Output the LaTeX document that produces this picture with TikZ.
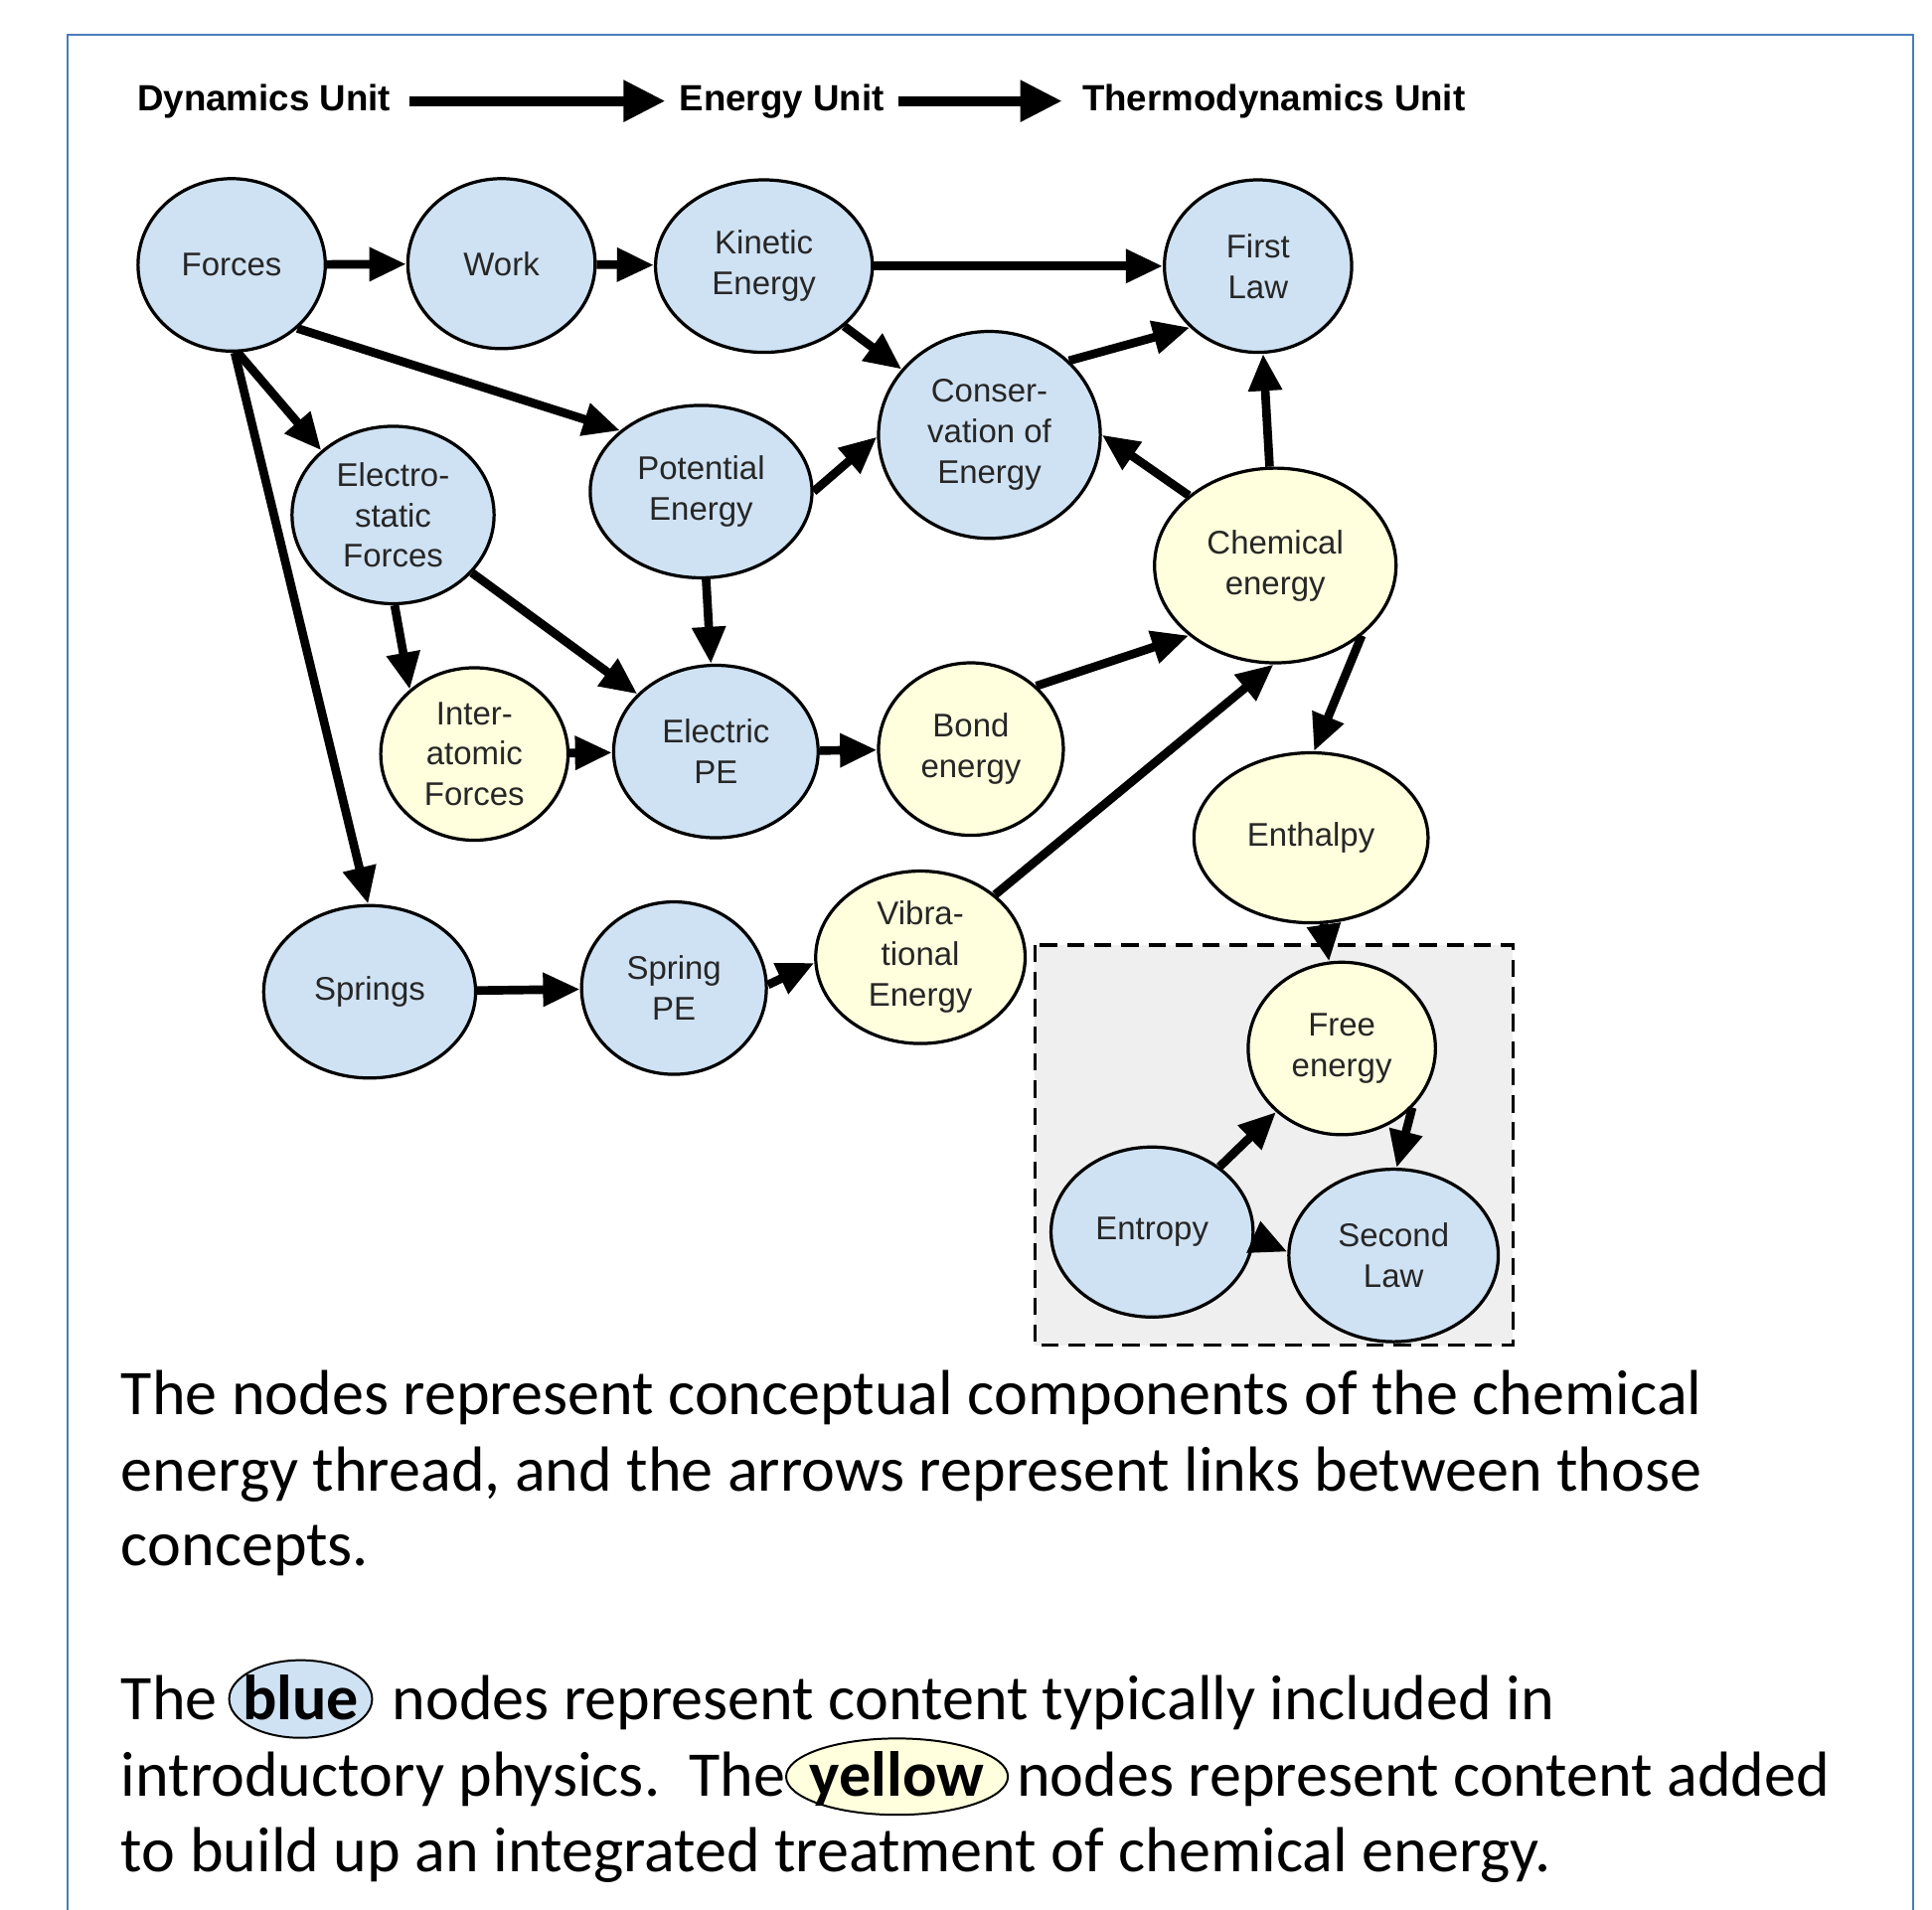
\documentclass[tikz,border=0pt]{standalone}
\usepackage{fontspec}
\setmainfont{Liberation Sans}
\newfontfamily\capfont{Carlito}
\usetikzlibrary{shapes.geometric,arrows.meta}
\definecolor{nblue}{HTML}{CFE2F3}
\definecolor{nyellow}{HTML}{FFFFDD}
\definecolor{boxgray}{HTML}{EFEFEF}
\definecolor{frameblue}{HTML}{4A7EBB}
\begin{document}
\begin{tikzpicture}[x=0.5pt,y=-0.5pt,
 concept/.style={ellipse,draw=black,line width=1.3pt,inner sep=0pt,align=center,
   font=\fontsize{13.3}{16.5}\selectfont,text=black!85},
 bluen/.style={concept,fill=nblue},
 yellown/.style={concept,fill=nyellow},
 link/.style={line width=3.5pt,-{Triangle[length=15pt,width=13pt]}},
 unitarrow/.style={line width=4pt,-{Triangle[length=17pt,width=16pt]}},
 unit/.style={font=\fontsize{14.8}{17}\selectfont\bfseries,inner sep=0pt,anchor=west},
 capline/.style={font=\capfont\fontsize{25.85}{31}\selectfont,inner sep=0pt,anchor=base west},
 capword/.style={font=\capfont\fontsize{25.85}{31}\selectfont\bfseries,inner sep=0pt,anchor=base}]
\useasboundingbox (0,0) rectangle (1568,1550);
% frame
\draw[frameblue,line width=0.8pt] (55,1560) -- (55,28) -- (1553,28) -- (1553,1560);
% header
\node[unit] (dyn) at (111,82) {Dynamics Unit};
\node[unit] (eng) at (551,82) {Energy Unit};
\node[unit] (thermo) at (878,82) {Thermodynamics Unit};
\draw[unitarrow] ([xshift=7.5pt]dyn.east) -- ([xshift=-5.5pt]eng.west);
\draw[unitarrow] ([xshift=5.5pt]eng.east) -- ([xshift=-8pt]thermo.west);
% dashed box
\draw[fill=boxgray,dashed,dash pattern=on 7pt off 4pt,line width=1.3pt] (840,767) rectangle (1228,1092);
% nodes
\node[bluen,minimum width=76pt,minimum height=70pt] (forces) at (188,215) {Forces};
\node[bluen,minimum width=76pt,minimum height=69pt] (work) at (407,214) {Work};
\node[bluen,minimum width=88pt,minimum height=70pt] (kinetic) at (620,216) {Kinetic\\Energy};
\node[bluen,minimum width=76pt,minimum height=70pt] (first) at (1021,216) {First\\Law};
\node[bluen,minimum width=90pt,minimum height=84pt] (cons) at (803,353) {Conser-\\vation of\\Energy};
\node[bluen,minimum width=90pt,minimum height=70pt] (pot) at (569,399) {Potential\\Energy};
\node[bluen,minimum width=82pt,minimum height=72pt] (estat) at (319,418) {Electro-\\static\\Forces};
\node[yellown,minimum width=98pt,minimum height=79pt] (chem) at (1035,459) {Chemical\\energy};
\node[yellown,minimum width=76pt,minimum height=70pt] (inter) at (385,612) {Inter-\\atomic\\Forces};
\node[bluen,minimum width=83pt,minimum height=70pt] (epe) at (581,610) {Electric\\PE};
\node[yellown,minimum width=75pt,minimum height=70pt] (bond) at (788,608) {Bond\\energy};
\node[yellown,minimum width=95pt,minimum height=69pt] (enth) at (1064,680) {Enthalpy};
\node[bluen,minimum width=86pt,minimum height=70pt] (springs) at (300,805) {Springs};
\node[bluen,minimum width=75pt,minimum height=70pt] (spe) at (547,802) {Spring\\PE};
\node[yellown,minimum width=85pt,minimum height=70pt] (vib) at (747,777) {Vibra-\\tional\\Energy};
\node[yellown,minimum width=76pt,minimum height=70pt] (free) at (1089,851) {Free\\energy};
\node[bluen,minimum width=82pt,minimum height=69pt] (ent) at (935,1000) {Entropy};
\node[bluen,minimum width=85pt,minimum height=70pt] (sec) at (1131,1019) {Second\\Law};
% links
\draw[link] (forces) -- (work);
\draw[link] (work) -- (kinetic);
\draw[link] (kinetic) -- (first);
\draw[link] (kinetic) -- (cons);
\draw[link] (cons.43) -- (first.222);
\draw[link] (forces.-44) -- (pot.143);
\draw[link] (forces.-86) -- (estat.138);
\draw[link] (forces.-88) -- (springs.91);
\draw[link] (pot.0) -- (cons.181);
\draw[link] (pot) -- (epe);
\draw[link] (estat.-89) -- (inter.135);
\draw[link] (estat) -- (epe);
\draw[link] (inter) -- (epe);
\draw[link] (epe) -- (bond);
\draw[link] (bond.44) -- (chem.219);
\draw[link] (vib.40) -- (chem.-91);
\draw[link] (chem.141) -- (cons.0);
\draw[link] (chem) -- (first);
\draw[link] (chem.-39) -- (enth.88);
\draw[link] (springs) -- (spe);
\draw[link] (spe.2) -- (vib.183);
\draw[link] (enth) -- (free);
\draw[link] (ent) -- (free);
\draw[link] (free.-40) -- (sec.88);
\draw[link] (ent.-3) -- (sec.178);
% caption
\node[capline] (c1) at (98,1148) {The nodes represent conceptual components of the chemical};
\node[capline] (c2) at (98,1210) {energy thread, and the arrows represent links between those};
\node[capline] (c3) at (98,1271) {concepts.};
\node[capline] (c5a) at (98,1396) {The};
\draw[fill=nblue,line width=0.8pt] (244,1379) ellipse [x radius=58, y radius=31.5];
\node[capword] (c5b) at (244,1396) {blue};
\node[capline] (c5c) at (318,1396) {nodes represent content typically included in};
\node[capline] (c6a) at (98,1458) {introductory physics.\ \ The};
\draw[fill=nyellow,line width=0.8pt] (728,1442) ellipse [x radius=90, y radius=31];
\node[capword] (c6b) at (728,1458) {yellow};
\node[capline] (c6c) at (825,1458) {nodes represent content added};
\node[capline] (c7) at (98,1519) {to build up an integrated treatment of chemical energy.};
\end{tikzpicture}
\end{document}
